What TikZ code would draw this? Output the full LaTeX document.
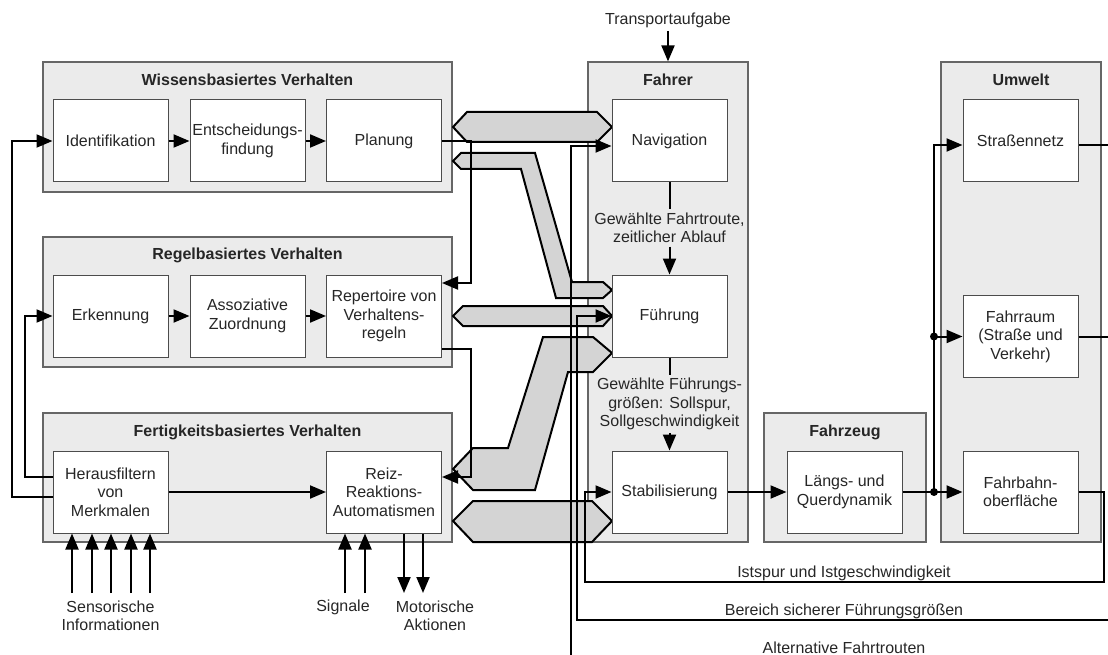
\documentclass[tikz,border=0pt]{standalone}
\usepackage{fontspec}
\setmainfont{Liberation Sans}
\usepackage{tikz}
\usetikzlibrary{arrows.meta}

\begin{document}
\begin{tikzpicture}[x=1pt, y=-1pt,
    font=\fontsize{16}{18.5}\selectfont, text=black!85,
    gruppe/.style={draw=black!60, line width=1.2pt, fill=black!8, inner sep=0pt},
    kasten/.style={draw=black!70, line width=1pt, fill=white, minimum width=115pt, minimum height=82pt, align=center, inner sep=0pt},
    titel/.style={font=\fontsize{16}{18.5}\selectfont\bfseries},
    pfeil/.style={line width=2pt, -{Triangle[length=16pt,width=13pt]}},
    linie/.style={line width=2pt},
    band/.style={draw=black, line width=2pt, fill=black!17},
    punkt/.style={shape=circle, fill=black, inner sep=0pt, minimum size=8pt}]
    \useasboundingbox (0,0) rectangle (1108,655);

    % Gruppen
    \node[gruppe, minimum width=409pt, minimum height=130pt] (wissen) at (247.5,127) {};
    \node[gruppe, minimum width=409pt, minimum height=130pt] (regel) at (247.5,302) {};
    \node[gruppe, minimum width=409pt, minimum height=129pt] (fertig) at (247.5,477.5) {};
    \node[gruppe, minimum width=160pt, minimum height=480pt] (fahrer) at (668,302) {};
    \node[gruppe, minimum width=162pt, minimum height=129pt] (fahrzeug) at (845,477.5) {};
    \node[gruppe, minimum width=160pt, minimum height=480pt] (umwelt) at (1021,302) {};

    \node[titel] (wissenT) at (247.5,80) {Wissensbasiertes Verhalten};
    \node[titel] (regelT) at (247.5,255) {Regelbasiertes Verhalten};
    \node[titel] (fertigT) at (247.5,432) {Fertigkeitsbasiertes Verhalten};
    \node[titel] (fahrerT) at (668,80) {Fahrer};
    \node[titel] (fahrzeugT) at (845,432) {Fahrzeug};
    \node[titel] (umweltT) at (1021,80) {Umwelt};

    % graue Baender
    \draw[band] (453,127) -- (467,112) -- (597,112) -- (612,127) -- (597,142) -- (467,142) -- cycle;
    \draw[band] (453,161) -- (461,153) -- (535,153) -- (572,282) -- (603,282) -- (612,290) -- (603,298) -- (556,298) -- (521,169) -- (461,169) -- cycle;
    \draw[band] (453,316) -- (463,306) -- (603,306) -- (612,316) -- (603,326) -- (463,326) -- cycle;
    \draw[band] (612,353) -- (593,337) -- (543,337) -- (508,448) -- (473,448) -- (453,469) -- (473,490) -- (535,490) -- (568,372) -- (593,372) -- cycle;
    \draw[band] (453,521) -- (473,501) -- (592,501) -- (612,521) -- (592,542) -- (473,542) -- cycle;

    % Kaesten
    \node[kasten] (ident) at (110.5,141) {Identifikation};
    \node[kasten] (entsch) at (247.5,141) {Entscheidungs-\\findung};
    \node[kasten] (plan) at (384,141) {Planung};
    \node[kasten] (erk) at (110.5,316) {Erkennung};
    \node[kasten] (assoz) at (247.5,316) {Assoziative\\Zuordnung};
    \node[kasten] (rep) at (384,316) {Repertoire von\\Verhaltens-\\regeln};
    \node[kasten] (heraus) at (110.5,492) {Herausfiltern\\von\\Merkmalen};
    \node[kasten] (reiz) at (384,492) {Reiz-\\Reaktions-\\Automatismen};
    \node[kasten] (navi) at (669.5,141) {Navigation};
    \node[kasten] (fuehr) at (669.5,316) {Führung};
    \node[kasten] (stab) at (669.5,492) {Stabilisierung};
    \node[kasten] (dyn) at (844.5,492) {Längs- und\\Querdynamik};
    \node[kasten] (netz) at (1020.5,141) {Straßennetz};
    \node[kasten] (raum) at (1020.5,336.5) {Fahrraum\\(Straße und\\Verkehr)};
    \node[kasten] (bahn) at (1020.5,492) {Fahrbahn-\\oberfläche};

    % Texte
    \node (transp) at (668,20) {Transportaufgabe};
    \node[align=center] (routeT) at (669.5,228) {Gewählte Fahrtroute,\\zeitlicher Ablauf};
    \node[align=center] (sollT) at (669.5,404) {Gewählte Führungs-\\größen: Sollspur,\\Sollgeschwindigkeit};
    \node[align=center] (sensor) at (110.5,616) {Sensorische\\Informationen};
    \node (signal) at (343,607) {Signale};
    \node[align=center] (motor) at (435,616) {Motorische\\Aktionen};
    \node (istT) at (844,573) {Istspur und Istgeschwindigkeit};
    \node (berT) at (844,611) {Bereich sicherer Führungsgrößen};
    \node (altT) at (844,648) {Alternative Fahrtrouten};

    \coordinate (abzw) at (934,492);
    \coordinate (istR) at (1104,582);
    \coordinate (istL) at (585,582);
    \coordinate (berR) at (1108,620);
    \coordinate (berL) at (577,620);
    \coordinate (altU) at (571,655);

    % Verbindungen
    \draw[pfeil] (ident) -- (entsch);
    \draw[pfeil] (entsch) -- (plan);
    \draw[pfeil] (erk) -- (assoz);
    \draw[pfeil] (assoz) -- (rep);
    \draw[pfeil] (heraus) -- (reiz);
    \draw[pfeil] ([yshift=-5pt]heraus.west) -- ++(-41,0) |- (ident.west);
    \draw[pfeil] ([yshift=15pt]heraus.west) -- ++(-28,0) |- (erk.west);
    \draw[pfeil] (plan.east) -- ++(29,0) |- ([yshift=33pt]rep.east);
    \draw[pfeil] ([yshift=-33pt]rep.east) -- ++(29,0) |- ([yshift=15pt]reiz.east);

    \foreach \x in {72,92,111,131,150}
        \draw[pfeil] (\x,593) -- (\x,0 |- heraus.south);
    \foreach \x in {345,365}
        \draw[pfeil] (\x,593) -- (\x,0 |- reiz.south);
    \foreach \x in {404,423}
        \draw[pfeil] (\x,0 |- reiz.south) -- (\x,593);

    \draw[pfeil] (transp.south) -- (fahrer.north);
    \draw[linie] (navi.south) -- (routeT.north);
    \draw[pfeil] (routeT.south) -- (fuehr.north);
    \draw[linie] (fuehr.south) -- (sollT.north);
    \draw[pfeil] (sollT.south) -- (stab.north);
    \draw[pfeil] (stab) -- (dyn);
    \draw[pfeil] (dyn) -- (bahn);
    \draw[pfeil] (abzw) |- ([yshift=-4pt]netz.west);
    \draw[pfeil] (abzw |- raum.west) -- (raum.west);
    \node[punkt] (abzwP) at (abzw) {};
    \node[punkt] (abzwQ) at (abzw |- raum.west) {};

    \draw[linie] ([yshift=-4pt]netz.east) -- ++(30,0);
    \draw[linie] (raum.east) -- ++(30,0);
    \draw[pfeil] (bahn.east) -| (istR) -- (istL) |- (stab.west);
    \draw[pfeil] (berR) -- (berL) |- (fuehr.west);
    \draw[pfeil] (altU) |- ([yshift=-5pt]navi.west);
  \end{tikzpicture}
\end{document}
